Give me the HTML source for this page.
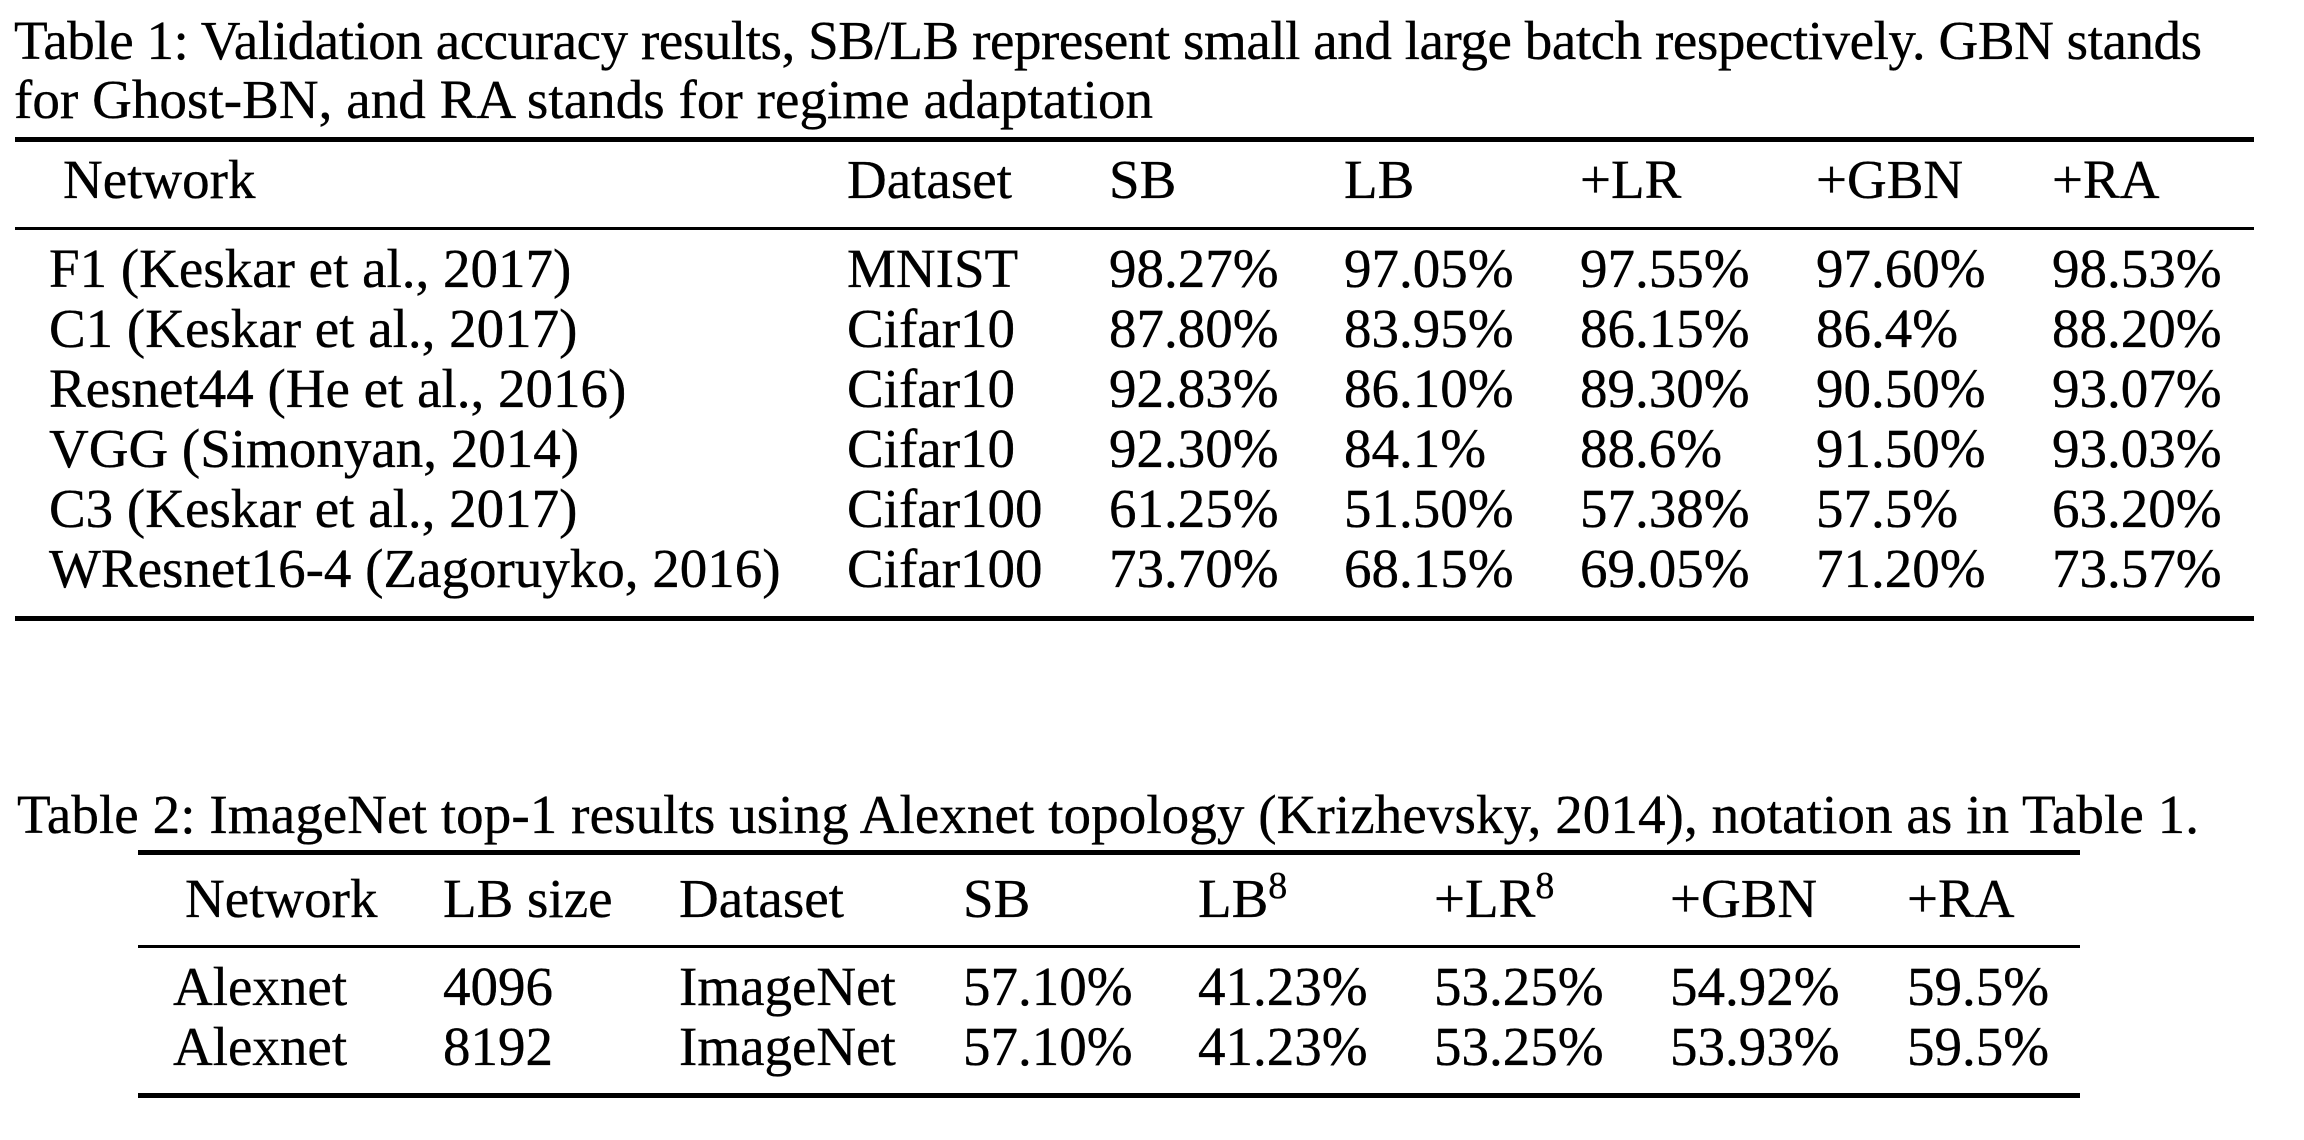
<!DOCTYPE html>
<html>
<head>
<meta charset="utf-8">
<style>
  html, body { margin: 0; padding: 0; background: #ffffff; }
  body { width: 2304px; height: 1140px; overflow: hidden; }
  svg { display: block; }
  text { font-family: "Liberation Serif", "Times New Roman", serif; font-size: 55px; fill: #000; stroke: #000; stroke-width: 0.35px; }
  .sup { font-size: 38px; }
</style>
</head>
<body>
<svg width="2304" height="1140" viewBox="0 0 2304 1140" xmlns="http://www.w3.org/2000/svg">
  <rect x="0" y="0" width="2304" height="1140" fill="#ffffff"/>

  <!-- Table 1 caption -->
  <text x="14" y="59" textLength="2188" lengthAdjust="spacing">Table 1: Validation accuracy results, SB/LB represent small and large batch respectively. GBN stands</text>
  <text x="14" y="118" textLength="1139" lengthAdjust="spacing">for Ghost-BN, and RA stands for regime adaptation</text>

  <!-- Table 1 rules -->
  <rect x="15" y="137" width="2239" height="5" fill="#000"/>
  <rect x="15" y="227" width="2239" height="3" fill="#000"/>
  <rect x="15" y="616" width="2239" height="5" fill="#000"/>

  <!-- Table 1 header -->
  <text x="63" y="198">Network</text>
  <text x="847" y="198">Dataset</text>
  <text x="1109" y="198">SB</text>
  <text x="1344" y="198">LB</text>
  <text x="1580" y="198">+LR</text>
  <text x="1816" y="198">+GBN</text>
  <text x="2052" y="198">+RA</text>

  <!-- Table 1 rows -->
  <text x="49" y="287">F1 (Keskar et al., 2017)</text>
  <text x="847" y="287">MNIST</text>
  <text x="1109" y="287">98.27%</text>
  <text x="1344" y="287">97.05%</text>
  <text x="1580" y="287">97.55%</text>
  <text x="1816" y="287">97.60%</text>
  <text x="2052" y="287">98.53%</text>

  <text x="49" y="347">C1 (Keskar et al., 2017)</text>
  <text x="847" y="347">Cifar10</text>
  <text x="1109" y="347">87.80%</text>
  <text x="1344" y="347">83.95%</text>
  <text x="1580" y="347">86.15%</text>
  <text x="1816" y="347">86.4%</text>
  <text x="2052" y="347">88.20%</text>

  <text x="49" y="407">Resnet44 (He et al., 2016)</text>
  <text x="847" y="407">Cifar10</text>
  <text x="1109" y="407">92.83%</text>
  <text x="1344" y="407">86.10%</text>
  <text x="1580" y="407">89.30%</text>
  <text x="1816" y="407">90.50%</text>
  <text x="2052" y="407">93.07%</text>

  <text x="49" y="467">VGG (Simonyan, 2014)</text>
  <text x="847" y="467">Cifar10</text>
  <text x="1109" y="467">92.30%</text>
  <text x="1344" y="467">84.1%</text>
  <text x="1580" y="467">88.6%</text>
  <text x="1816" y="467">91.50%</text>
  <text x="2052" y="467">93.03%</text>

  <text x="49" y="527">C3 (Keskar et al., 2017)</text>
  <text x="847" y="527">Cifar100</text>
  <text x="1109" y="527">61.25%</text>
  <text x="1344" y="527">51.50%</text>
  <text x="1580" y="527">57.38%</text>
  <text x="1816" y="527">57.5%</text>
  <text x="2052" y="527">63.20%</text>

  <text x="49" y="587">WResnet16-4 (Zagoruyko, 2016)</text>
  <text x="847" y="587">Cifar100</text>
  <text x="1109" y="587">73.70%</text>
  <text x="1344" y="587">68.15%</text>
  <text x="1580" y="587">69.05%</text>
  <text x="1816" y="587">71.20%</text>
  <text x="2052" y="587">73.57%</text>

  <!-- Table 2 caption -->
  <text x="17" y="833" textLength="2182" lengthAdjust="spacing">Table 2: ImageNet top-1 results using Alexnet topology (Krizhevsky, 2014), notation as in Table 1.</text>

  <!-- Table 2 rules -->
  <rect x="138" y="850" width="1942" height="5" fill="#000"/>
  <rect x="138" y="945" width="1942" height="3" fill="#000"/>
  <rect x="138" y="1093" width="1942" height="5" fill="#000"/>

  <!-- Table 2 header -->
  <text x="185" y="917">Network</text>
  <text x="443" y="917">LB size</text>
  <text x="679" y="917">Dataset</text>
  <text x="963" y="917">SB</text>
  <text x="1198" y="917">LB<tspan class="sup" dy="-19">8</tspan></text>
  <text x="1434" y="917">+LR<tspan class="sup" dy="-19">8</tspan></text>
  <text x="1670" y="917">+GBN</text>
  <text x="1907" y="917">+RA</text>

  <!-- Table 2 rows -->
  <text x="173" y="1005">Alexnet</text>
  <text x="443" y="1005">4096</text>
  <text x="679" y="1005">ImageNet</text>
  <text x="963" y="1005">57.10%</text>
  <text x="1198" y="1005">41.23%</text>
  <text x="1434" y="1005">53.25%</text>
  <text x="1670" y="1005">54.92%</text>
  <text x="1907" y="1005">59.5%</text>

  <text x="173" y="1065">Alexnet</text>
  <text x="443" y="1065">8192</text>
  <text x="679" y="1065">ImageNet</text>
  <text x="963" y="1065">57.10%</text>
  <text x="1198" y="1065">41.23%</text>
  <text x="1434" y="1065">53.25%</text>
  <text x="1670" y="1065">53.93%</text>
  <text x="1907" y="1065">59.5%</text>
</svg>
</body>
</html>
